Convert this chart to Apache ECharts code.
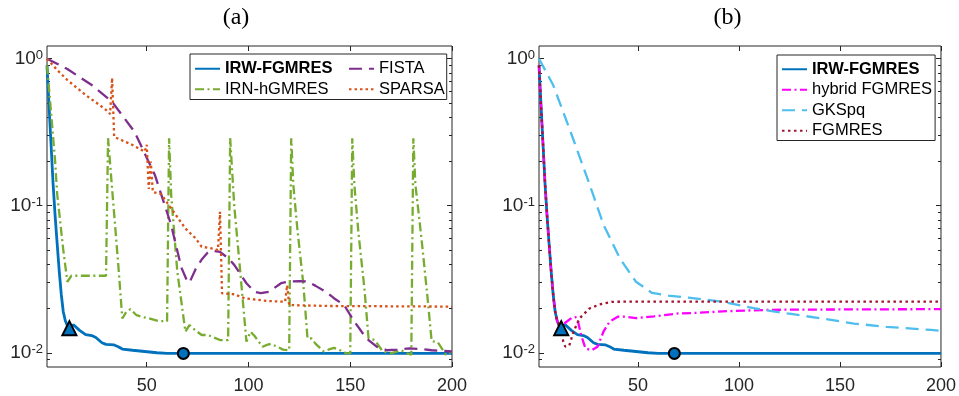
<!DOCTYPE html>
<html>
<head>
<meta charset="utf-8">
<script src="https://cdn.jsdelivr.net/npm/echarts@6.0.0/dist/echarts.min.js"></script>
<style>
  html, body { margin: 0; padding: 0; background: #fff; }
  #chart { width: 959px; height: 396px; }
</style>
</head>
<body>
<div id="chart"></div>
<script>
// axis ranges and ticks
const xRange = [1, 200]
const yRange = [0.008, 1.22]
const xTicks = [50, 100, 150, 200]
const yMajorTicks = [0.01, 0.1, 1]
const yMinorTicks = [0.009, 0.02, 0.03, 0.04, 0.05, 0.06, 0.07, 0.08, 0.09,
  0.2, 0.3, 0.4, 0.5, 0.6, 0.7, 0.8, 0.9]
const panelTitles = ['(a)', '(b)']

// relative errors, [iteration, value]
const irwFgmres = [[1, 0.9], [2, 0.48], [3, 0.26], [4, 0.14], [5, 0.085], [6, 0.055], [7, 0.036],
  [8, 0.025], [9, 0.019], [10, 0.0165], [11, 0.0153], [12, 0.0147], [14, 0.0155], [17, 0.0142],
  [20, 0.0133], [23, 0.0131], [25, 0.0127], [28, 0.0117], [30, 0.0114], [34, 0.0113], [36, 0.011],
  [38, 0.0106], [43, 0.0104], [49, 0.0102], [55, 0.01], [60, 0.0099], [68, 0.0099], [100, 0.0099],
  [150, 0.0099], [200, 0.0099]]
const irnHgmres = [[1, 0.9], [3, 0.43], [5, 0.2], [6, 0.12], [7, 0.09], [9, 0.05], [11, 0.0304],
  [13, 0.0334], [30, 0.0334], [31, 0.288], [33, 0.13], [36, 0.04], [38, 0.0171], [40, 0.019],
  [42, 0.0198], [45, 0.018], [48, 0.0175], [52, 0.017], [56, 0.0164], [60, 0.0164],
  [61, 0.288], [62, 0.12], [65, 0.036], [69, 0.0139], [71, 0.0154], [74, 0.0142], [77, 0.0132],
  [80, 0.0132], [83, 0.0127], [86, 0.0122], [90, 0.0122],
  [91, 0.288], [93, 0.1], [96, 0.035], [99, 0.0119], [101, 0.0139], [103, 0.013], [105, 0.0119],
  [107, 0.011], [109, 0.0113], [111, 0.0115], [114, 0.011], [117, 0.0105], [120, 0.0104],
  [121, 0.288], [122, 0.14], [124, 0.07], [127, 0.0288], [129, 0.0125], [131, 0.0125], [133, 0.0115],
  [137, 0.0102], [140, 0.0106], [142, 0.0108], [145, 0.0104], [148, 0.0099], [150, 0.0099],
  [151, 0.288], [152, 0.14], [154, 0.066], [157, 0.027], [159, 0.0125], [162, 0.0122],
  [166, 0.0102], [170, 0.0099], [175, 0.0104], [178, 0.0099], [180, 0.0097],
  [181, 0.288], [182, 0.14], [185, 0.06], [188, 0.0235], [190, 0.012], [193, 0.0118],
  [197, 0.0097], [200, 0.0102]]
const fista = [[1, 1.0], [11, 0.851], [23, 0.662], [33, 0.509], [44, 0.318], [54, 0.162],
  [62, 0.074], [67, 0.038], [70, 0.0304], [71, 0.03], [74, 0.037], [77, 0.043], [80, 0.048],
  [83, 0.0492], [86, 0.0485], [90, 0.044], [93, 0.0396], [99, 0.0297], [103, 0.026], [106, 0.0254],
  [110, 0.026], [116, 0.0297], [120, 0.0305], [125, 0.0307], [129, 0.0305], [133, 0.0285],
  [138, 0.026], [142, 0.0235], [147, 0.0211], [152, 0.0163], [158, 0.0125], [163, 0.011],
  [168, 0.0104], [173, 0.0105], [179, 0.0107], [185, 0.0106], [190, 0.0104], [200, 0.0102]]
const sparsa = [[1, 1.0], [6, 0.838], [11, 0.716], [20, 0.566], [28, 0.471], [31, 0.436],
  [32, 0.42], [33, 0.74], [34, 0.294], [43, 0.259], [49, 0.233], [50, 0.26], [51, 0.13],
  [52, 0.2], [53, 0.124], [57, 0.12], [62, 0.096], [69, 0.07], [74, 0.06], [77, 0.0526],
  [83, 0.051], [85, 0.05], [86, 0.091], [87, 0.0254], [93, 0.025], [98, 0.0235], [109, 0.0225],
  [118, 0.0222], [119, 0.0288], [120, 0.0211], [140, 0.0208], [200, 0.0206]]
const hybridFgmres = [[1, 0.9], [2, 0.48], [3, 0.26], [4, 0.14], [5, 0.085], [6, 0.055], [7, 0.036],
  [8, 0.025], [9, 0.019], [10, 0.0165], [11, 0.0153], [12, 0.0147], [14, 0.016], [17, 0.0172],
  [19, 0.0175], [20, 0.017], [22, 0.013], [24, 0.0107], [27, 0.0104], [30, 0.011], [33, 0.014],
  [36, 0.0163], [40, 0.0176], [44, 0.0176], [49, 0.0172], [58, 0.0177], [70, 0.0185], [80, 0.0187],
  [95, 0.0192], [116, 0.0196], [150, 0.0197], [200, 0.0198]]
const gksPq = [[1, 1.0], [8, 0.662], [16, 0.336], [25, 0.153], [33, 0.074], [41, 0.0439],
  [49, 0.0304], [57, 0.0255], [65, 0.0245], [75, 0.0237], [91, 0.0223], [108, 0.02], [124, 0.0185],
  [141, 0.0171], [157, 0.0158], [173, 0.015], [195, 0.0143], [200, 0.0141]]
const fgmres = [[1, 0.9], [2, 0.48], [3, 0.26], [4, 0.14], [5, 0.085], [6, 0.055], [7, 0.036],
  [8, 0.025], [9, 0.019], [10, 0.0165], [11, 0.0153], [12, 0.0147], [13, 0.0119], [14, 0.011],
  [16, 0.0112], [18, 0.0138], [21, 0.0171], [26, 0.02], [31, 0.0213], [37, 0.0222], [50, 0.0223],
  [200, 0.0223]]
const stopPoint = [[12, 0.0147]]
const bestPoint = [[68, 0.0099]]

const axisColor = '#262626'
const sans = 'Liberation Sans'

function xAxes (grid) {
  const base = {
    gridIndex: grid,
    type: 'value',
    min: xRange[0],
    max: xRange[1],
    axisLine: { show: false },
    splitLine: { show: false },
    axisTick: { inside: true, length: 5, customValues: xTicks, lineStyle: { color: axisColor } }
  }
  return [
    Object.assign({}, base, {
      position: 'bottom',
      axisLabel: { customValues: xTicks, fontSize: 18, color: axisColor, fontFamily: sans, margin: 10 }
    }),
    Object.assign({}, base, { position: 'top', axisLabel: { show: false } })
  ]
}

function yAxis (grid, side, ticks, len, label) {
  return {
    gridIndex: grid,
    type: 'log',
    logBase: 10,
    position: side,
    min: yRange[0],
    max: yRange[1],
    axisLine: { show: false },
    splitLine: { show: false },
    minorTick: { show: false },
    axisTick: { inside: true, length: len, customValues: ticks, lineStyle: { color: axisColor } },
    axisLabel: label ? {
      customValues: yMajorTicks,
      margin: 4,
      formatter: function (v) {
        const e = Math.round(Math.log10(v))
        return '{b|10}{s|' + e + '}'
      },
      rich: {
        b: { fontSize: 19, color: axisColor, fontFamily: sans },
        s: { fontSize: 13, color: axisColor, fontFamily: sans, verticalAlign: 'top' }
      }
    } : { show: false }
  }
}

function yAxes (grid) {
  return [
    yAxis(grid, 'left', yMajorTicks, 5, true),
    yAxis(grid, 'left', yMinorTicks, 3, false),
    yAxis(grid, 'right', yMajorTicks, 5, false),
    yAxis(grid, 'right', yMinorTicks, 3, false)
  ]
}

function line (name, data, grid, color, width, dash) {
  return {
    name: name,
    type: 'line',
    xAxisIndex: grid * 2,
    yAxisIndex: grid * 4,
    data: data,
    symbol: 'none',
    showSymbol: false,
    animation: false,
    lineStyle: { color: color, width: width, type: dash, cap: 'butt' },
    itemStyle: { color: color }
  }
}

function marker (name, data, grid, symbol, size) {
  return {
    name: name,
    type: 'scatter',
    xAxisIndex: grid * 2,
    yAxisIndex: grid * 4,
    data: data,
    symbol: symbol,
    symbolSize: size,
    z: 5,
    animation: false,
    itemStyle: { color: '#0072BD', borderColor: '#000', borderWidth: 2, opacity: 1 }
  }
}

const blue = '#0072BD'
const dashDot = [9, 3.5, 2, 3.5]

const series = [
  line('IRW-FGMRES', irwFgmres, 0, blue, 2.8, 'solid'),
  line('IRN-hGMRES', irnHgmres, 0, '#77AC30', 2.3, dashDot),
  line('FISTA', fista, 0, '#7E2F8E', 2.3, [13, 7]),
  line('SPARSA', sparsa, 0, '#D95319', 2.3, [2.5, 3]),
  marker('stopA', stopPoint, 0, 'triangle', 14),
  marker('bestA', bestPoint, 0, 'circle', 11),
  line('IRW-FGMRES', irwFgmres, 1, blue, 2.8, 'solid'),
  line('hybrid FGMRES', hybridFgmres, 1, '#FF00FF', 2.3, dashDot),
  line('GKSpq', gksPq, 1, '#4DBEEE', 2.3, [13, 7]),
  line('FGMRES', fgmres, 1, '#A2142F', 2.3, [2.5, 3.5]),
  marker('stopB', stopPoint, 1, 'triangle', 14),
  marker('bestB', bestPoint, 1, 'circle', 11)
]

const legendText = {
  fontSize: 16.5,
  fontFamily: sans,
  color: '#000',
  lineHeight: 18.5
}

const myChart = echarts.init(document.getElementById('chart'))
const option = {
  backgroundColor: '#fff',
  animation: false,
  grid: [
    { left: 47, top: 46, width: 405, height: 321, show: true, borderColor: axisColor, borderWidth: 1 },
    { left: 539, top: 46, width: 405, height: 321, show: true, borderColor: axisColor, borderWidth: 1 }
  ],
  xAxis: xAxes(0).concat(xAxes(1)),
  yAxis: yAxes(0).concat(yAxes(1)),
  legend: [
    {
      data: ['IRW-FGMRES', 'FISTA', 'IRN-hGMRES', 'SPARSA'],
      orient: 'horizontal',
      left: 190,
      top: 54,
      width: 300,
      itemGap: 2,
      itemWidth: 25,
      itemHeight: 12,
      padding: [5.5, 2, 1, 4],
      borderColor: axisColor,
      borderWidth: 1,
      backgroundColor: '#fff',
      selectedMode: false,
      itemStyle: { opacity: 0, borderWidth: 0 },
      formatter: function (name) {
        if (name === 'IRW-FGMRES') return '{w|' + name + '}'
        if (name === 'IRN-hGMRES') return '{c|' + name + '}'
        return '{d|' + name + '}'
      },
      textStyle: Object.assign({}, legendText, {
        rich: {
          w: Object.assign({}, legendText, { fontWeight: 'bold', width: 121 }),
          c: Object.assign({}, legendText, { width: 121 }),
          d: Object.assign({}, legendText)
        }
      })
    },
    {
      data: ['IRW-FGMRES', 'hybrid FGMRES', 'GKSpq', 'FGMRES'],
      orient: 'vertical',
      left: 777,
      top: 55,
      itemGap: 2,
      itemWidth: 25,
      itemHeight: 12,
      padding: [5, 3, 0.5, 4],
      borderColor: axisColor,
      borderWidth: 1,
      backgroundColor: '#fff',
      selectedMode: false,
      itemStyle: { opacity: 0, borderWidth: 0 },
      formatter: function (name) {
        return name === 'IRW-FGMRES' ? '{w|' + name + '}' : '{d|' + name + '}'
      },
      textStyle: Object.assign({}, legendText, {
        rich: {
          w: Object.assign({}, legendText, { fontWeight: 'bold' }),
          d: Object.assign({}, legendText)
        }
      })
    }
  ],
  graphic: [
    { type: 'text', x: 236, y: 17.5, style: { text: panelTitles[0], fontSize: 24, fontFamily: 'Liberation Serif', fill: '#000', align: 'center', verticalAlign: 'middle' } },
    { type: 'text', x: 727.5, y: 17.5, style: { text: panelTitles[1], fontSize: 24, fontFamily: 'Liberation Serif', fill: '#000', align: 'center', verticalAlign: 'middle' } }
  ],
  series: series
}
myChart.setOption(option, true)
</script>
</body>
</html>
